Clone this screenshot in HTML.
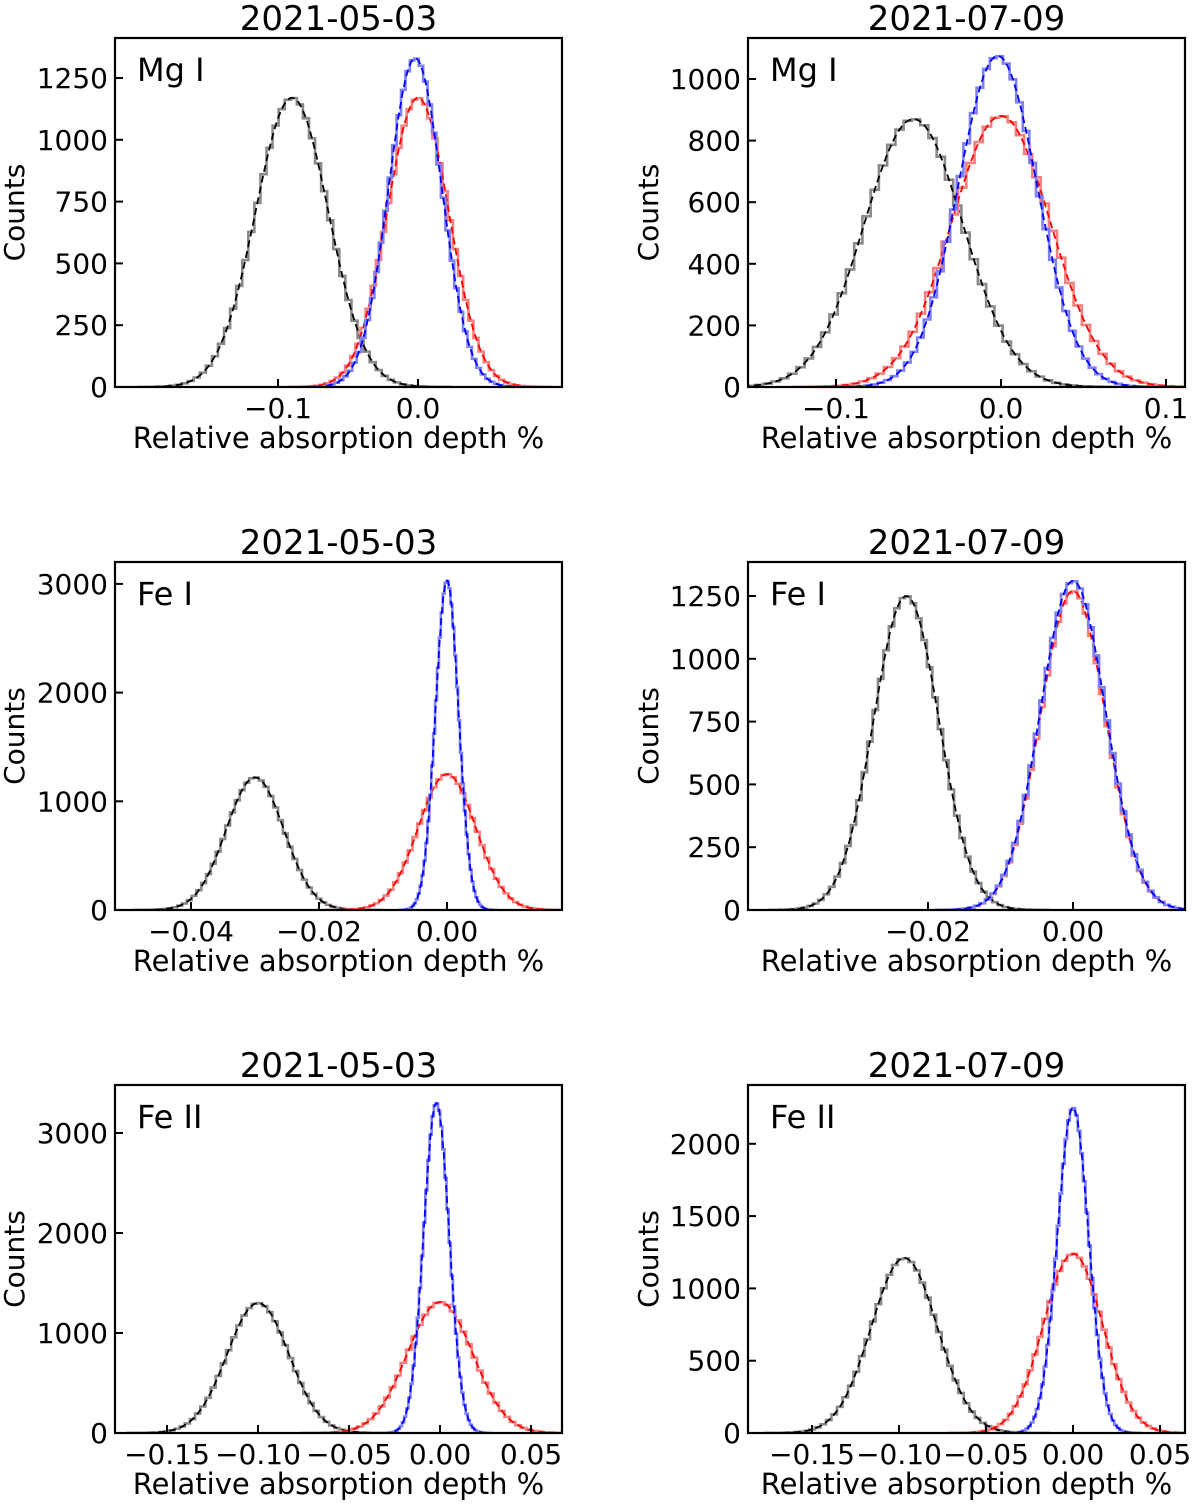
<!DOCTYPE html>
<html><head><meta charset="utf-8"><style>
body{margin:0;background:#fff}
svg text{font-family:"DejaVu Sans","Liberation Sans",sans-serif;fill:#000}
</style></head><body>
<svg id="fig" width="1200" height="1504" viewBox="0 0 1200 1504" xmlns="http://www.w3.org/2000/svg"></svg>
<script>
// Fit parameters [mean, sigma, peak] per panel, series order: black, red, blue
const titles = ["2021-05-03","2021-07-09","2021-05-03","2021-07-09","2021-05-03","2021-07-09"];
const lineLabels = ["Mg I","Mg I","Fe I","Fe I","Fe II","Fe II"];
const blackFits = [[-0.09,0.026,1170],[-0.053,0.03,870],[-0.03,0.0045,1220],[-0.023,0.0045,1250],[-0.1,0.017,1300],[-0.097,0.019,1210]];
const redFits = [[0,0.022,1170],[0,0.03,880],[0,0.0045,1250],[0,0.0045,1270],[0,0.018,1310],[0,0.017,1240]];
const blueFits = [[-0.002,0.019,1330],[-0.002,0.024,1075],[0,0.0018,3030],[0,0.0045,1310],[-0.002,0.007,3300],[0,0.009,2250]];
const xTicks = [[-0.1,0.0],[-0.1,0.0,0.1],[-0.04,-0.02,0.00],[-0.02,0.00],[-0.15,-0.10,-0.05,0.00,0.05],[-0.15,-0.10,-0.05,0.00,0.05]];
const xTickLabels = [["−0.1","0.0"],["−0.1","0.0","0.1"],["−0.04","−0.02","0.00"],["−0.02","0.00"],["−0.15","−0.10","−0.05","0.00","0.05"],["−0.15","−0.10","−0.05","0.00","0.05"]];
const yTicks = [[0,250,500,750,1000,1250],[0,200,400,600,800,1000],[0,1000,2000,3000],[0,250,500,750,1000,1250],[0,1000,2000,3000],[0,500,1000,1500,2000]];

// layout (not data)
const boxes=[[115,38,562,387],[748,38,1185,387],[115,562,562,910],[748,562,1185,910],[115,1085,562,1433],[748,1085,1185,1433]];
const xmaps=[[418,1400],[1001,1650],[447,6400],[1073,7250],[440,1820],[1073,1740]];
const ymaps=[0.2472,0.308,0.1087,0.2512,0.1,0.1446];
const ns="http://www.w3.org/2000/svg";
const svg=document.getElementById('fig');
function mk(t,a,p){const e=document.createElementNS(ns,t);for(const k in a)e.setAttribute(k,a[k]);(p||svg).appendChild(e);return e;}
function gauss(f,x){return f[2]*Math.exp(-0.5*((x-f[0])/f[1])**2);}
for(let i=0;i<6;i++){
  const [x0,y0,x1,y1]=boxes[i];
  const g=mk('g',{});
  
  
  const X=v=>xmaps[i][0]+v*xmaps[i][1];
  const Y=v=>y1-v*ymaps[i];
  const clip=mk('clipPath',{id:'c'+i},g);mk('rect',{x:x0,y:y0,width:x1-x0,height:y1-y0},clip);
  const series=[[blackFits[i],'#8a8a8a','#000'],[redFits[i],'#f58080','#f00'],[blueFits[i],'#8080f5','#00f']];
  const names=['control','red','blue'];
  series.forEach((s,si)=>{
    const f=s[0];const st=1/6;const bw=f[1]*st;
    let d='';let first=true;
    for(let b=-4.2;b<=4.2;b+=st){
      const xa=f[0]+b*f[1], xb=xa+bw;
      const c=gauss(f,xa+bw/2);
      d+=(first?'M'+X(xa)+','+Y(0)+'L':'L')+X(xa)+','+Y(c)+'L'+X(xb)+','+Y(c);first=false;
    }
    d+='L'+X(f[0]+4.4*f[1])+','+Y(0);
    const h=mk('path',{d:d,fill:'none',stroke:s[1],'stroke-width':2.6,'clip-path':'url(#c'+i+')'},g);
    
    
    let p='';
    for(let k=0;k<=200;k++){const x=f[0]-5*f[1]+k*10*f[1]/200;p+=(k?'L':'M')+X(x).toFixed(1)+','+Y(gauss(f,x)).toFixed(1);}
    const fl=mk('path',{d:p,fill:'none',stroke:s[2],'stroke-width':1.8,'stroke-dasharray':'7,4','clip-path':'url(#c'+i+')'},g);
    
    
  });
  const r=mk('rect',{x:x0,y:y0,width:x1-x0,height:y1-y0,fill:'none',stroke:'#000','stroke-width':2.2},g);
  
  
  xTicks[i].forEach((v,k)=>{
    mk('line',{x1:X(v),x2:X(v),y1:y1,y2:y1-8,stroke:'#000','stroke-width':2},g);
    const t=mk('text',{x:X(v),y:y1+31,'font-size':28,'text-anchor':'middle'},g);t.textContent=xTickLabels[i][k];
    
    
  });
  yTicks[i].forEach(v=>{
    mk('line',{x1:x0,x2:x0+8,y1:Y(v),y2:Y(v),stroke:'#000','stroke-width':2},g);
    const t=mk('text',{x:x0-7,y:Y(v)+10,'font-size':28,'text-anchor':'end'},g);t.textContent=v;
    
    
  });
  const tt=mk('text',{x:(x0+x1)/2,y:y0-8,'font-size':34,'text-anchor':'middle'},g);tt.textContent=titles[i];
  
  
  const ll=mk('text',{x:x0+22,y:y0+43,'font-size':32},g);ll.textContent=lineLabels[i];
  
  
  const xl=mk('text',{x:(x0+x1)/2,y:y1+61,'font-size':29,'text-anchor':'middle'},g);xl.textContent='Relative absorption depth %';
  
  
  const yc=(y0+y1)/2;
  const yxx=(i%2?658:24);
  const yl=mk('text',{x:yxx,y:yc,'font-size':28,'text-anchor':'middle',transform:'rotate(-90 '+yxx+' '+yc+')'},g);yl.textContent='Counts';
  
  
}
</script>
</body></html>
